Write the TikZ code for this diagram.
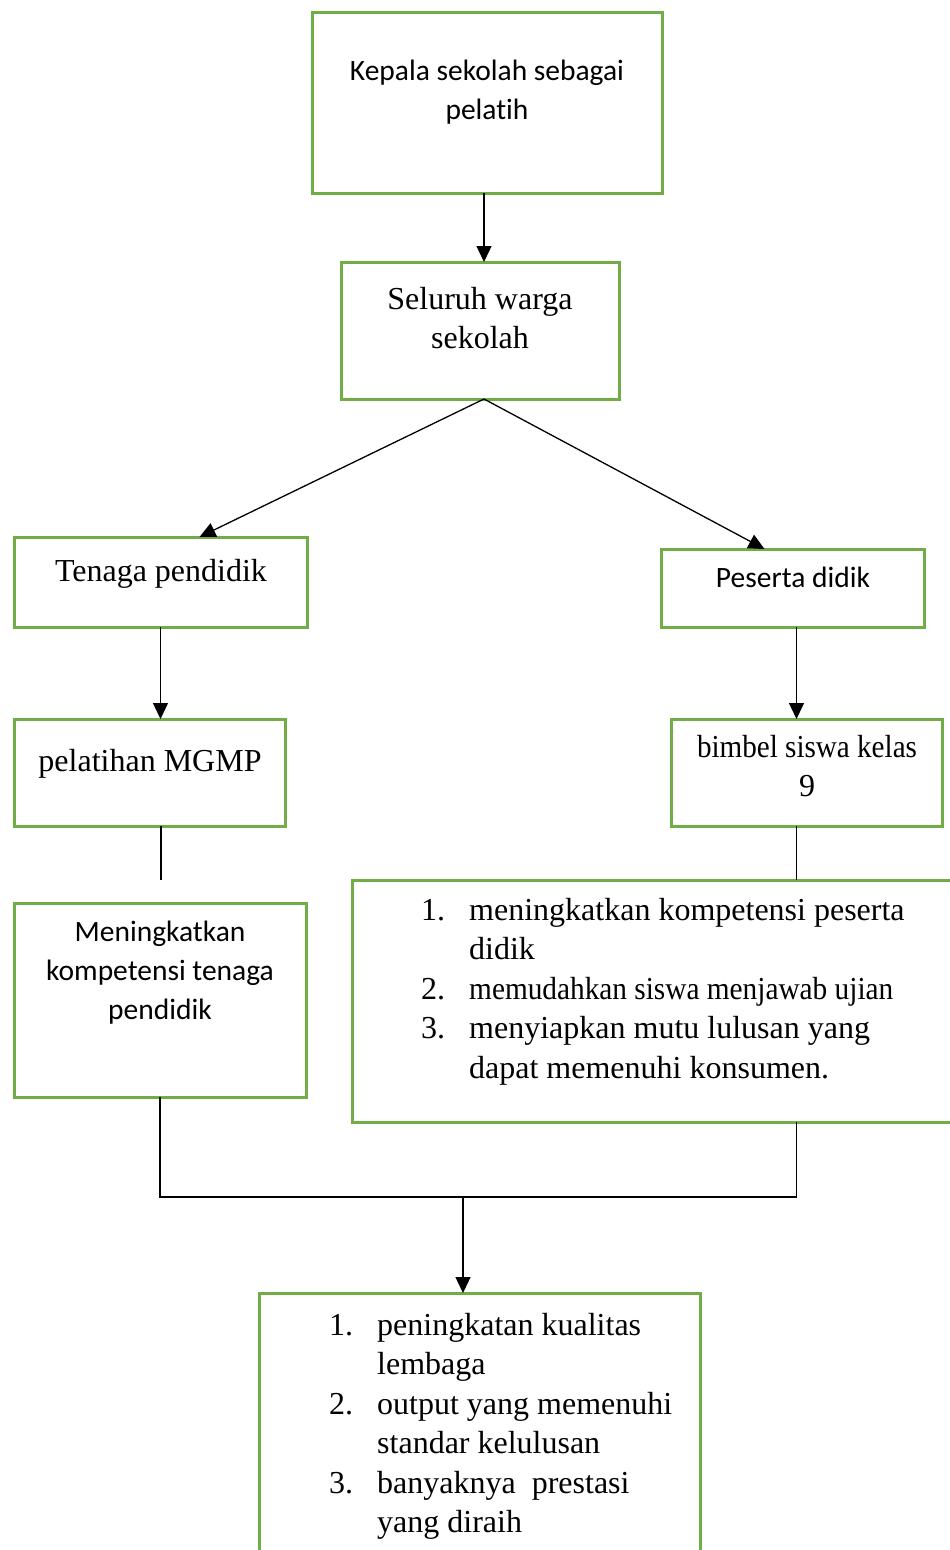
\documentclass[tikz,border=0pt]{standalone}
\usepackage{fontspec}
\usepackage{graphicx}
\setmainfont{Liberation Serif}
\newfontfamily\calib[Ligatures=NoCommon]{Carlito}
\usetikzlibrary{arrows.meta,calc}
\definecolor{boxgreen}{HTML}{70AD47}
% centred or list text whose anchor "base" sits on the first line
\newcommand{\stack}[1]{\begin{tabular}[t]{@{}c@{}}#1\end{tabular}}
\newcommand{\numlist}[1]{\begin{tabular}[t]{@{}r@{\hspace{24pt}}l@{}}#1\end{tabular}}
\begin{document}
\begin{tikzpicture}[x=1pt,y=-1pt,
  greenbox/.style={draw=boxgreen,line width=3pt,rectangle,anchor=north west,
    inner sep=0pt,outer sep=0pt},
  serif/.style={font=\fontsize{32}{39.5}\selectfont,inner sep=0pt},
  sans/.style={font=\calib\fontsize{29.5}{39}\selectfont,inner sep=0pt},
  link/.style={line width=1.3pt,black},
  arr/.style={link,-{Triangle[length=16pt,width=15pt]}}]
\useasboundingbox (0,0) rectangle (950,1550);
\fill[white] (0,0) rectangle (950,1550);
\clip (0,0) rectangle (950,1550);

% boxes
\node[greenbox,minimum width=350pt,minimum height=181pt] (k) at (312,12) {};
\node[greenbox,minimum width=278pt,minimum height=137pt] (s) at (341,262) {};
\node[greenbox,minimum width=293pt,minimum height=90pt]  (t) at (14,537) {};
\node[greenbox,minimum width=263pt,minimum height=78pt]  (p) at (661,549) {};
\node[greenbox,minimum width=271pt,minimum height=107pt] (m) at (14,719) {};
\node[greenbox,minimum width=271pt,minimum height=107pt] (b) at (671,719) {};
\node[greenbox,minimum width=292pt,minimum height=194pt] (c) at (14,903) {};
\node[greenbox,minimum width=640pt,minimum height=242pt] (l) at (352,880) {};
\node[greenbox,minimum width=441pt,minimum height=300pt] (o) at (259,1293) {};

% texts
\node[sans,anchor=base] (tk) at (487,80) {\stack{Kepala sekolah sebagai\\pelatih}};
\node[serif,anchor=base] (ts) at (480,309) {\stack{Seluruh warga\\sekolah}};
\node[serif,anchor=base] (tt) at (161,581) {Tenaga pendidik};
\node[sans,anchor=base] (tp) at (793,587) {Peserta didik};
\node[serif,anchor=base] (tm) at (150,771) {pelatihan MGMP};
\node[serif,anchor=base] (tb) at (807,757)
  {\stack{\scalebox{0.91}[1]{bimbel siswa kelas}\\9}};
\node[sans,anchor=base] (tc) at (160,941) {\stack{Meningkatkan\\kompetensi tenaga\\pendidik}};
\node[serif,anchor=base west] (tl) at (421,920) {\numlist{%
  1. & meningkatkan kompetensi peserta\\
     & didik\\
  2. & \scalebox{0.916}[1]{memudahkan siswa menjawab ujian}\\
  3. & menyiapkan mutu lulusan yang\\
     & dapat memenuhi konsumen.}};
\node[serif,anchor=base west] (to) at (329,1335) {\numlist{%
  1. & peningkatan kualitas\\
     & lembaga\\
  2. & output yang memenuhi\\
     & standar kelulusan\\
  3. & banyaknya\ \ prestasi\\
     & yang diraih}};

% connectors
\coordinate (tIn) at ($(t.north)+(39,0)$);
\coordinate (pIn) at ($(p.north)+(-28,0)$);
\coordinate (mEnd) at (161,880);
\coordinate (j) at (463,1197);
\draw[arr] ($(k.south)+(-3,0)$) -- ($(k.south |- s.north)+(-3,0)$);
\draw[arr] ($(s.south)+(4,0)$) -- (tIn);
\draw[arr] ($(s.south)+(4,0)$) -- (pIn);
\draw[arr] (t.south) -- (t.south |- m.north);
\draw[arr] ($(p.south)+(4,0)$) -- ($(p.south |- b.north)+(4,0)$);
\draw[link] (mEnd |- m.south) -- (mEnd);
\draw[link] ($(p.south |- b.south)+(4,0)$) -- ($(p.south |- l.north)+(4,0)$);
\draw[link] (c.south) |- ($(p.south |- j)+(4,0)$) -- ($(p.south |- l.south)+(4,0)$);
\draw[arr] (j) -- (j |- o.north);
\end{tikzpicture}
\end{document}
